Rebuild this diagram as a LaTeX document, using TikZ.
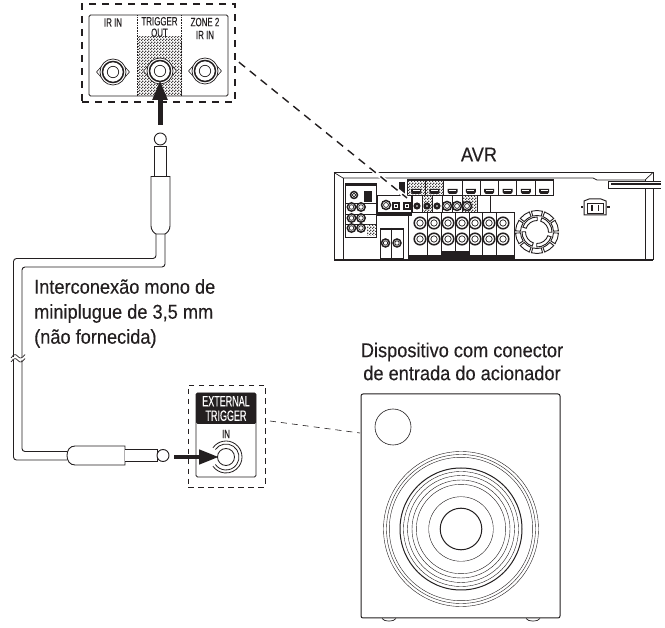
\documentclass[tikz,border=0pt]{standalone}
\usepackage{fontspec}
\setmainfont{Liberation Sans}
\newfontfamily\capfont[FakeStretch=0.91,FakeBold=0.25]{Liberation Sans}
\newfontfamily\lblfont[FakeStretch=0.66,FakeBold=0.15]{Liberation Sans}
\newfontfamily\ntrfont[FakeStretch=0.60,FakeBold=0.15]{Liberation Sans}
\usetikzlibrary{arrows.meta,patterns}
\definecolor{ink}{HTML}{231F20}
\pgfdeclarepatternformonly{checks}{\pgfqpoint{0pt}{0pt}}{\pgfqpoint{2.6pt}{2.6pt}}{\pgfqpoint{2.6pt}{2.6pt}}{
  \pgfpathrectangle{\pgfqpoint{0pt}{0pt}}{\pgfqpoint{1.3pt}{1.3pt}}
  \pgfpathrectangle{\pgfqpoint{1.3pt}{1.3pt}}{\pgfqpoint{1.3pt}{1.3pt}}
  \pgfusepath{fill}
}
\tikzset{
  caption node/.style={font=\capfont\fontsize{20}{25}\selectfont,text=ink,inner sep=0pt},
  panel label/.style={font=\lblfont\fontsize{12}{11.5}\selectfont,text=ink,inner sep=0pt,align=center},
  dash box/.style={draw=ink,dashed,inner sep=0pt},
  panel box/.style={draw=ink,rounded corners=1.5pt,inner sep=0pt,line width=0.8pt},
  push arrow/.style={draw=ink,line width=5pt,-{Triangle[length=20pt,width=14pt]}},
  cable/.style={draw=ink,line width=0.9pt,rounded corners=3pt},
  hatched/.style={pattern=checks,pattern color=ink!85},
  avrline/.style={draw=ink,line width=0.7pt},
  pics/rcajack/.style={code={
    \draw[draw=ink,fill=white,line width=0.6pt] (-16.5,0) -- (-12,-5) -- (-12,5) -- cycle;
    \draw[draw=ink,fill=white,line width=0.6pt] (16.5,0) -- (12,-5) -- (12,5) -- cycle;
    \draw[draw=ink,fill=white,line width=0.7pt] (0,0) circle[radius=13];
    \draw[draw=ink,line width=1.5pt] (0,0) circle[radius=10.5];
    \draw[draw=ink,line width=0.7pt] (0,0) circle[radius=5.7];
  }},
  pics/avrjack/.style={code={
    \draw[draw=ink,fill=white,line width=1.5pt] (0,0) circle[radius=#1];
    \draw[draw=ink,line width=0.7pt] (0,0) circle[radius=0.55*#1];
  }},
  pics/avrdark/.style={code={
    \fill[ink] (0,0) circle[radius=3.6];
    \fill[white] (0,0) circle[radius=0.8];
  }},
  pics/hdmiport/.style={code={
    \fill[ink] (-5,-2) -- (5,-2) -- (5,1) -- (3.5,3) -- (-3.5,3) -- (-5,1) -- cycle;
    \fill[white] (-3.5,-0.8) rectangle (3.5,0.4);
  }},
}
\begin{document}
\begin{tikzpicture}[x=1pt,y=-1pt]
  \useasboundingbox (0,0) rectangle (665,628);

  % top panel
  \node[dash box,line width=1.3pt,dash pattern=on 7pt off 6pt,minimum width=153pt,minimum height=98pt] at (158.5,53) (topbox) {};
  \node[panel box,minimum width=139pt,minimum height=81pt] at (158.5,55.5) (toppanel) {};
  \fill[hatched] (137.5,37) rectangle (182,95.5);
  \draw[draw=ink,densely dotted,line width=0.6pt] (137,15.5) -- (137,96);
  \draw[draw=ink,densely dotted,line width=0.6pt] (181.5,15.5) -- (181.5,96);
  \node[panel label] at (113,22.5) (irin) {IR IN};
  \node[panel label] at (159.5,27) (trigout) {TRIGGER\\OUT};
  \node[panel label,font=\lblfont\fontsize{12}{13}\selectfont] at (205,28.5) (zonein) {ZONE 2\\IR IN};
  \pic at (113,72) {rcajack};
  \pic at (160,71) {rcajack};
  \pic at (205,71) {rcajack};

  % upper plug
  \coordinate (uptail) at (160,125);
  \coordinate (uptip) at (160,80);
  \draw[push arrow] (uptail) -- (uptip);
  \draw[draw=ink,fill=white,line width=0.9pt] (154.5,176) -- (154.5,146) -- (166,146) -- (166,176);
  \node[circle,draw=ink,line width=0.9pt,fill=white,inner sep=0pt,minimum size=12pt] at (160.3,139) (uptipball) {};
  \draw[draw=ink,fill=white,line width=0.9pt] (151,176.5) -- (151,226) .. controls (151,230) and (154,233) .. (156,234) -- (165,234) .. controls (167,233) and (170,230) .. (170,226) -- (170,176.5) -- cycle;

  % cable
  \coordinate (plugA) at (156,234);
  \coordinate (plugB) at (165,234);
  \coordinate (breakA) at (13.5,357);
  \coordinate (breakB) at (22,357);
  \coordinate (resumeA) at (13.5,360);
  \coordinate (resumeB) at (22,360);
  \coordinate (lowplugA) at (67,460);
  \coordinate (lowplugB) at (67,451.5);
  \draw[cable] (plugA) -- (156,258.5) -- (13.5,258.5) -- (breakA);
  \draw[cable] (plugB) -- (165,267) -- (22,267) -- (breakB);
  \draw[cable] (resumeA) -- (13.5,460) -- (lowplugA);
  \draw[cable] (resumeB) -- (22,451.5) -- (lowplugB);
  \draw[draw=ink,line width=0.7pt] (11,358) .. controls (14,353.5) and (16,354) .. (18,356.5) .. controls (20,359) and (22,358.5) .. (25,354.5);
  \draw[draw=ink,line width=0.7pt] (11,362) .. controls (14,357.5) and (16,358) .. (18,360.5) .. controls (20,363) and (22,362.5) .. (25,358.5);

  % lower plug
  \draw[draw=ink,fill=white,line width=0.9pt] (125,465) -- (75,465) .. controls (70,465) and (67,461) .. (67,455.5) .. controls (67,450) and (70,446) .. (75,446) -- (125,446) -- cycle;
  \draw[draw=ink,fill=white,line width=0.9pt] (125,449.5) -- (157,449.5) -- (157,461.5) -- (125,461.5);
  \node[circle,draw=ink,line width=0.9pt,fill=white,inner sep=0pt,minimum size=12pt] at (163,455.5) (lowtipball) {};

  % trigger input
  \node[dash box,line width=0.7pt,dash pattern=on 5.5pt off 4.5pt,minimum width=77pt,minimum height=102pt] at (226.5,436) (lowbox) {};
  \node[panel box,minimum width=60pt,minimum height=84pt] at (226,435) (lowpanel) {};
  \fill[ink,rounded corners=1.5pt] (196,393) -- (256,393) -- (256,424) -- (196,424) -- cycle;
  \node[font=\ntrfont\fontsize{15}{14.5}\selectfont,text=white,align=center,inner sep=0pt] at (226,408.5) (extlabel) {EXTERNAL\\TRIGGER};
  \node[panel label] at (226,434) (inlabel) {IN};
  \draw[draw=ink,line width=0.8pt] (226,457) ++(215:16) arc[start angle=215,end angle=505,radius=16];
  \draw[draw=ink,line width=0.8pt] (226,457) ++(215:13) arc[start angle=215,end angle=505,radius=13];
  \draw[draw=ink,line width=0.8pt] (226,457) circle[radius=8.5];
  \coordinate (lowtail) at (174,457);
  \coordinate (lowtip) at (219,457);
  \draw[push arrow,line width=4.5pt] (lowtail) -- (lowtip);

  % captions
  \node[caption node,align=left,anchor=north west] at (34,279) (cablenote) {Interconex\~ao mono de\\miniplugue de 3,5 mm\\(n\~ao fornecida)};
  \node[caption node,align=center,font=\capfont\fontsize{20}{23}\selectfont] at (462,361.5) (subnote) {Dispositivo com conector\\de entrada do acionador};
  \node[caption node] at (479,154.5) (avrname) {AVR};

  % receiver
  \draw[avrline,line width=0.9pt] (334,260) -- (334,172.5) -- (653,172.5) -- (653,260);
  \draw[avrline] (334,172.5) -- (343,178) -- (593,178) -- (597,180) -- (645,180) -- (653,172.5);
  \draw[avrline] (343,178) -- (343,260);
  \draw[avrline] (645,180) -- (645,260);
  \draw[avrline,line width=1.4pt] (334,260) -- (653,260);
  \fill[white] (608,181) rectangle (662,189);
  \draw[avrline,line width=1pt] (612,181.5) -- (608,181.5) -- (608,189) -- (612,189);
  \draw[avrline] (608,181.5) -- (661,181.5);
  \draw[avrline,line width=1.1pt] (611,184) -- (661,184);
  \draw[avrline,line width=1pt] (608,189) -- (661,189);

  % hdmi row
  \foreach \i in {0,...,7}{
    \draw[avrline] (407+18.3*\i,179) rectangle (407+18.3*\i+18.3,195);
  }
  \fill[hatched] (407.5,180) rectangle (425,195);
  \fill[hatched] (425.8,180) rectangle (443.5,195);
  \fill[ink] (407,179) rectangle (553,181.5);
  \foreach \i in {0,...,7}{
    \pic at (416+18.3*\i,191) {hdmiport};
  }

  % input row
  \draw[avrline] (412,195) rectangle (490,212);
  \fill[hatched] (422,196) rectangle (432,212);
  \fill[hatched] (463,196) rectangle (477,212);
  \foreach \x in {422,432,442,452,462,477}{
    \draw[avrline] (\x,195) -- (\x,212);
  }
  \foreach \x in {417,427,437}{
    \pic at (\x,206) {avrdark};
  }
  \foreach \x in {447,457,467}{
    \pic at (\x,206) {avrjack=4.5};
  }

  % digital row
  \draw[avrline] (377,195) rectangle (411,215);
  \fill[ink] (377,212) rectangle (411,215.5);
  \pic at (386,205) {avrjack=4.5};
  \foreach \x in {396,407}{
    \draw[avrline,line width=1.2pt] (\x-3,203) rectangle (\x+3,209);
    \fill[ink] (\x-1.3,204.7) rectangle (\x+1.3,207.3);
  }
  \fill[ink] (399,182) rectangle (405,195);

  % left module
  \draw[avrline] (345,183) rectangle (376,237);
  \fill[ink] (345,183) rectangle (376,186);
  \pic at (354,195) {avrjack=3.5};
  \fill[ink] (364,191) rectangle (372,202);
  \draw[avrline] (345,203) -- (376,203);
  \draw[avrline] (345,214) -- (376,214);
  \draw[avrline] (345,224) -- (376,224);
  \fill[hatched] (367,224.5) rectangle (376,236);
  \foreach \y in {207,218,228}{
    \pic at (351.5,\y) {avrjack=4.2};
    \pic at (361,\y) {avrjack=4.2};
  }

  % small module
  \draw[avrline] (380,228) rectangle (403,258);
  \fill[ink] (380,228) rectangle (403,230.5);
  \draw[avrline] (391.5,228) -- (391.5,258);
  \pic at (385.5,243) {avrjack=4};
  \pic at (397,243) {avrjack=4};

  % speaker terminals
  \draw[avrline] (408,212) rectangle (514,258);
  \fill[ink] (408,255.5) rectangle (514,258);
  \fill[ink] (441,251) rectangle (469,255.5);
  \foreach \x in {427,441,455,469,482,496}{
    \draw[avrline] (\x,212) -- (\x,255);
  }
  \foreach \x in {420,434,448,462,475,489,503}{
    \pic at (\x,223) {avrjack=5.8};
    \pic at (\x,239) {avrjack=5.8};
  }

  % fan
  \begin{scope}[shift={(537,232)}]
    \foreach \a in {0,36,...,324}{
      \draw[draw=ink,line width=0.9pt,fill=white] (\a+3:16.5) arc[start angle=\a+3,end angle=\a+33,radius=16.5] -- (\a+33:21.5) arc[start angle=\a+33,end angle=\a+3,radius=21.5] -- cycle;
    }
    \foreach \a in {15,105,195,285}{
      \draw[draw=ink,line width=0.9pt,fill=white] (\a+4:11.5) arc[start angle=\a+4,end angle=\a+76,radius=11.5] -- (\a+76:15) arc[start angle=\a+76,end angle=\a+4,radius=15] -- cycle;
    }
  \end{scope}

  % power inlet
  \draw[avrline,line width=1pt] (584,201) -- (589,199) -- (601,199) -- (606,201) -- (606,215) -- (584,215) -- cycle;
  \draw[avrline] (587,203) rectangle (603,213);
  \fill[ink] (591,205) rectangle (592.5,211);
  \fill[ink] (597.5,205) rectangle (599,211);
  \fill[ink] (580.5,206) rectangle (583,208);
  \fill[ink] (607,206) rectangle (609.5,208);

  % leaders
  \coordinate (toptap) at (235,59);
  \coordinate (avrtap) at (407,198);
  \coordinate (haloA) at (370,168);
  \draw[draw=white,line width=4pt] (haloA) -- (avrtap);
  \draw[draw=ink,line width=1.4pt,dash pattern=on 8pt off 6pt,dash phase=-5pt] (toptap) -- (avrtap);

  % subwoofer
  \node[panel box,fill=white,rounded corners=2pt,line width=1pt,minimum width=199pt,minimum height=224pt] at (460.5,506) (subbox) {};
  \coordinate (subtap) at (360,433);
  \coordinate (lowtap) at (270,421);
  \draw[draw=ink,line width=0.6pt,dash pattern=on 6pt off 5pt] (lowtap) -- (subtap);
  \node[circle,draw=ink,line width=0.6pt,inner sep=0pt,minimum size=36pt] at (393,427) (subport) {};
  \foreach \r/\w in {77.5/0.4,74.5/0.4,71.7/0.4,61/1,57.5/0.4,53.5/0.4,49/0.4,44.7/0.4,32.3/0.4,20.8/1}{
    \draw[draw=ink,line width=\w pt] (461,529) circle[radius=\r];
  }
  \draw[draw=ink,line width=0.7pt] (382,618.5) .. controls (384,622) and (394,622) .. (396,618.5);
  \draw[draw=ink,line width=0.7pt] (526,618.5) .. controls (528,622) and (538,622) .. (540,618.5);
\end{tikzpicture}
\end{document}
